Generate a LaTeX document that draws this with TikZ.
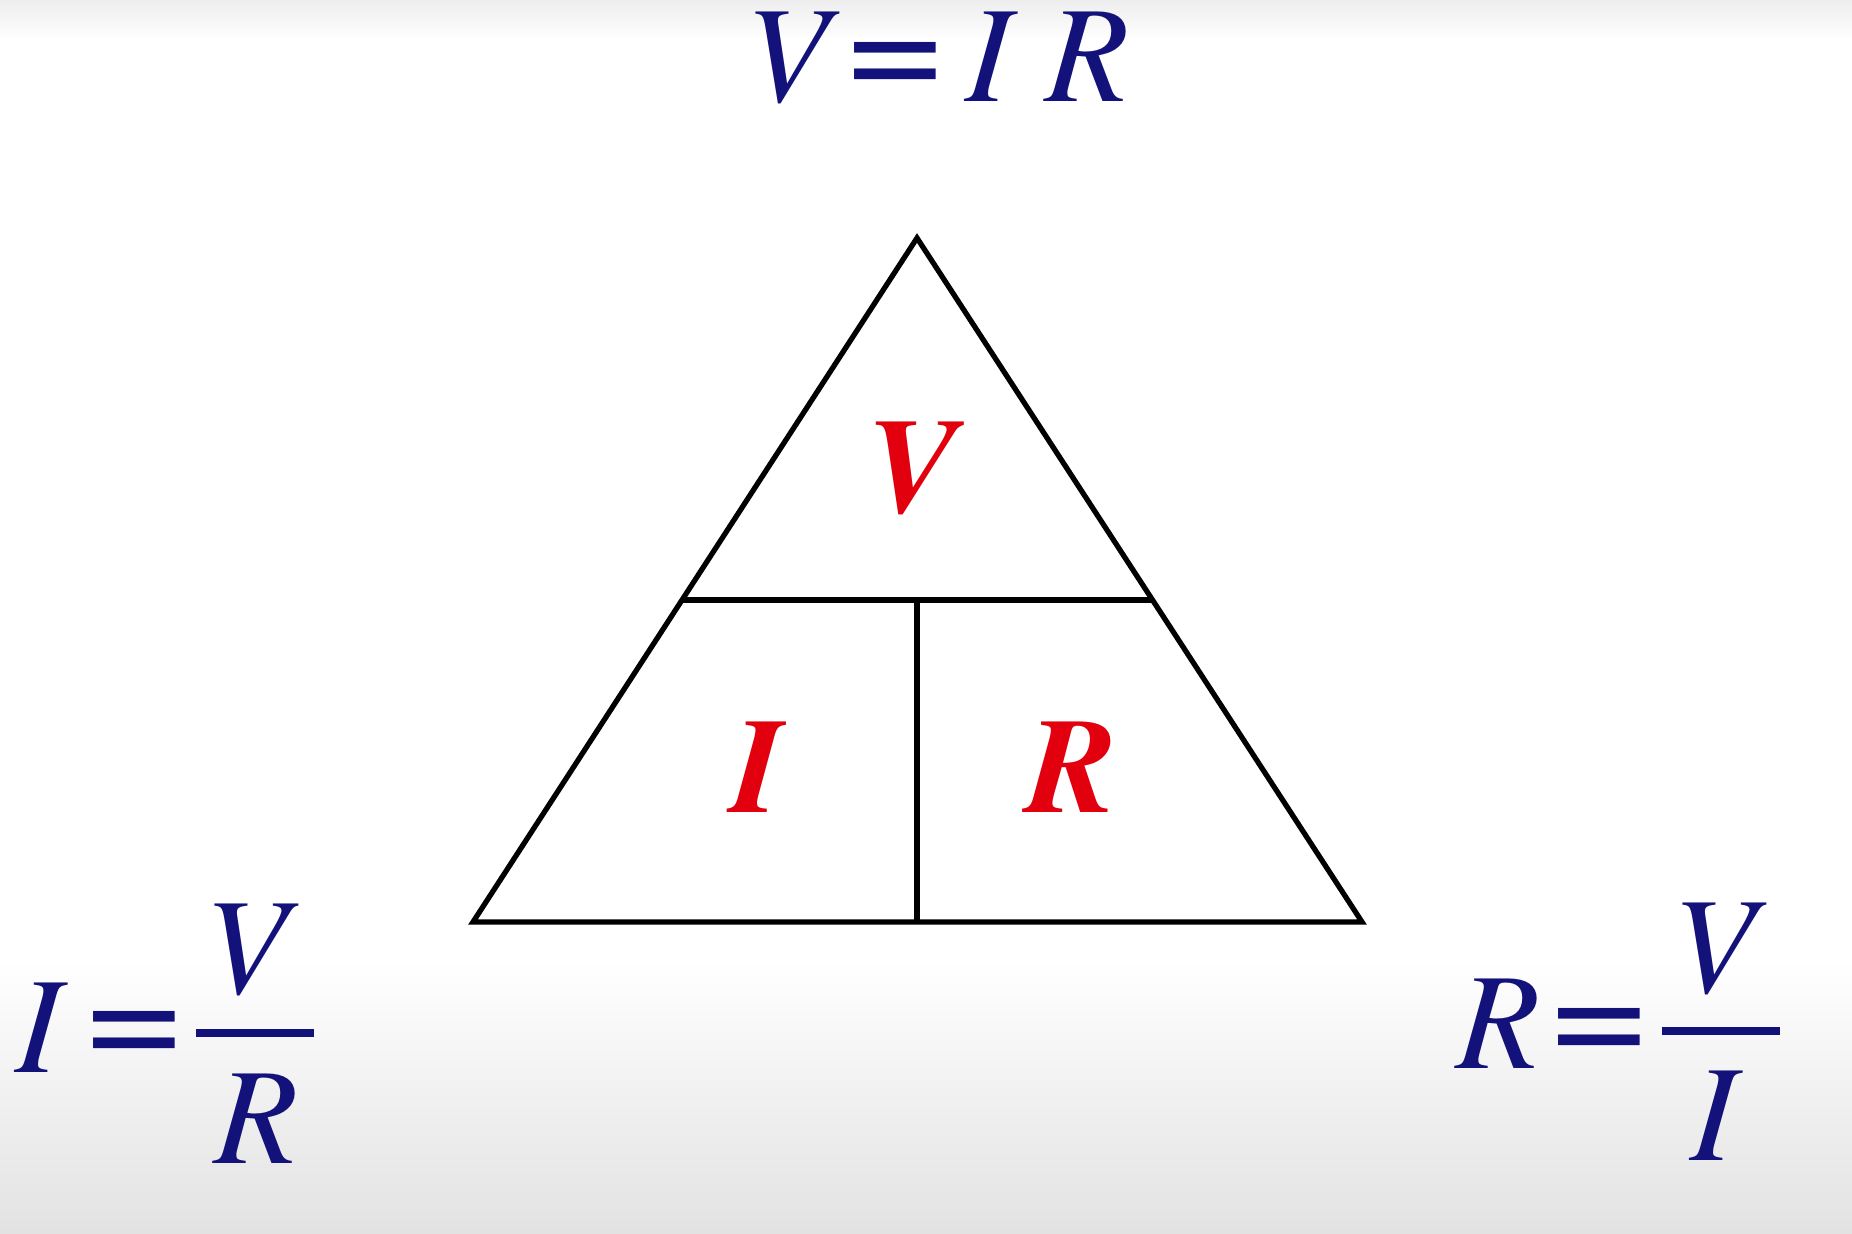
\documentclass[tikz,border=0pt]{standalone}
\usepackage{fontspec}
\setmainfont{texgyretermes}[Extension=.otf,UprightFont=*-regular,ItalicFont=*-italic,BoldFont=*-bold,BoldItalicFont=*-bolditalic]
\usetikzlibrary{positioning}
\definecolor{OhmNavy}{HTML}{12127A}
\definecolor{OhmRed}{HTML}{E2000F}
\definecolor{OhmGrey}{HTML}{E2E2E2}
\newcommand{\tallEq}{\scalebox{1}[1.18]{=}}
\tikzset{
  eq/.style={text=OhmNavy,font=\fontsize{39}{39}\selectfont\itshape,inner sep=0pt,anchor=base},
  eqsign/.style={text=OhmNavy,font=\fontsize{39}{39}\selectfont\itshape,inner sep=0pt},
  cell/.style={text=OhmRed,font=\fontsize{38.5}{38.5}\selectfont\bfseries\itshape,inner sep=0pt,anchor=base},
  side/.style={black,line width=1.5pt,line join=miter},
  bar/.style={OhmNavy,line width=2.3pt}
}

\begin{document}
\begin{tikzpicture}[x=0.01cm,y=-0.01cm]
\useasboundingbox (0,0) rectangle (1852,1234);
\fill[white] (0,0) rectangle (1852,1234);
\shade[top color=OhmGrey!60,bottom color=white] (0,0) rectangle (1852,40);
\shade[top color=white,bottom color=OhmGrey] (0,960) rectangle (1852,1234);

% triangle
\coordinate (apex) at (917,238);
\coordinate (bl) at (473,922);
\coordinate (br) at (1362,922);
\path (bl)--(apex) coordinate[pos=.4708] (ml);
\path (br)--(apex) coordinate[pos=.4708] (mr);
\coordinate (mm) at (917,600);
\coordinate (mb) at (917,922);
\draw[side] (apex)--(br)--(bl)--cycle;
\draw[side] (ml)--(mr);
\draw[side] (mm)--(mb);

\node[cell] (cellV) at (913,513) {V};
\node[cell] (cellI) at (758,812) {I};
\node[cell] (cellR) at (1072,812) {R};

% formulas
\node[eq] (ohm) at (937,102) {V\hspace{.14em}\tallEq\hspace{.18em}I R};

\node[eq] (leftI) at (38,1072) {I};
\node[eqsign] (leftEq) at (133.5,1041) {\tallEq};
\draw[bar] (196,1033)--(314,1033);
\node[eq] (leftV) at (246,993) {V};
\node[eq] (leftR) at (256,1163) {R};

\node[eq] (rightR) at (1498,1068) {R};
\node[eqsign] (rightEq) at (1599,1038) {\tallEq};
\draw[bar] (1662,1031)--(1780,1031);
\node[eq] (rightV) at (1714,992) {V};
\node[eq] (rightI) at (1713,1160) {I};
\end{tikzpicture}
\end{document}
